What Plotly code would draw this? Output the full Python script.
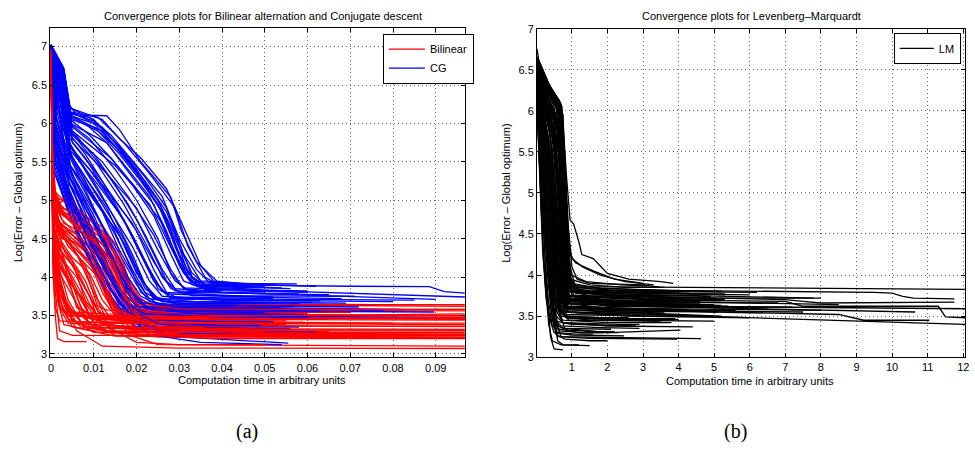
import plotly.graph_objects as go

# ---------------- data ----------------
# Each run: list of (time, log error) vertices
bilinear_runs = [
    [(0,7.0),(0.0004,5.4),(0.0012,4.9),(0.006,4.75),(0.012,4.5),(0.0165,4.1),(0.019,3.8),(0.023,3.64),(0.097,3.62)],
    [(0,6.95),(0.0005,5.2),(0.002,4.85),(0.008,4.6),(0.013,4.3),(0.017,3.9),(0.02,3.6),(0.03,3.57),(0.097,3.56)],
    [(0,7.0),(0.0003,5.8),(0.001,5.05),(0.004,4.95),(0.01,4.7),(0.015,4.35),(0.018,3.95),(0.021,3.55),(0.04,3.5),(0.097,3.49)],
    [(0,6.9),(0.0006,4.8),(0.003,4.5),(0.009,4.2),(0.014,3.9),(0.017,3.6),(0.025,3.47),(0.097,3.45)],
    [(0,6.98),(0.0005,5.0),(0.002,4.6),(0.006,4.3),(0.01,3.8),(0.013,3.45),(0.03,3.37),(0.097,3.355)],
    [(0,7.0),(0.0006,4.6),(0.0015,4.0),(0.004,3.6),(0.008,3.35),(0.02,3.32),(0.097,3.31)],
    [(0,6.95),(0.0004,5.1),(0.002,4.7),(0.007,4.45),(0.012,4.1),(0.015,3.6),(0.019,3.3),(0.03,3.27),(0.097,3.26)],
    [(0,6.9),(0.0008,4.3),(0.002,3.7),(0.005,3.35),(0.015,3.23),(0.097,3.22)],
    [(0,7.0),(0.0005,4.9),(0.003,4.55),(0.01,4.25),(0.014,3.7),(0.018,3.25),(0.025,3.12),(0.097,3.10)],
    [(0,6.92),(0.0007,4.4),(0.002,3.8),(0.006,3.3),(0.012,3.1),(0.03,3.075),(0.097,3.07)],
    [(0,6.9),(0.0004,4.2),(0.001,3.5),(0.0015,3.2),(0.003,3.16),(0.0083,3.16)],
    [(0,6.95),(0.0005,4.0),(0.001,3.6),(0.002,3.43),(0.012,3.40),(0.022,3.39)],
    [(0,7.0),(0.0006,4.7),(0.002,4.3),(0.006,3.85),(0.009,3.5),(0.02,3.45),(0.045,3.44)],
    [(0,6.97),(0.0005,5.1),(0.003,4.8),(0.009,4.5),(0.013,4.2),(0.016,3.75),(0.019,3.62),(0.0535,3.62)],
    [(0,6.93),(0.0003,5.3),(0.0015,4.85),(0.007,4.65),(0.013,4.4),(0.017,4.0),(0.02,3.7),(0.024,3.55),(0.06,3.53)],
    [(0,7.0),(0.0005,4.6),(0.002,4.2),(0.005,3.8),(0.007,3.5),(0.01,3.35),(0.03,3.3),(0.065,3.29)],
    [(0,6.88),(0.001,4.1),(0.002,3.6),(0.004,3.4),(0.016,3.36),(0.035,3.35)],
    [(0,6.95),(0.0006,4.9),(0.003,4.6),(0.008,4.35),(0.012,3.9),(0.015,3.5),(0.02,3.35),(0.05,3.33)],
    [(0,7.0),(0.0004,5.0),(0.002,4.7),(0.006,4.55),(0.011,4.3),(0.014,3.85),(0.017,3.5),(0.022,3.38),(0.042,3.37)],
    [(0,6.9),(0.0008,4.5),(0.003,4.1),(0.007,3.7),(0.01,3.4),(0.015,3.24),(0.04,3.2),(0.097,3.2)],
    [(0,6.97),(0.0005,4.7),(0.002,4.4),(0.004,4.0),(0.006,3.6),(0.01,3.5),(0.028,3.48),(0.032,3.47)],
    [(0,6.92),(0.0007,4.3),(0.0015,3.85),(0.003,3.55),(0.009,3.5),(0.02,3.49)],
    [(0,7.0),(0.0005,5.2),(0.0025,4.9),(0.008,4.75),(0.013,4.45),(0.016,4.2),(0.018,3.8),(0.021,3.5),(0.03,3.42),(0.08,3.4)],
    [(0,6.95),(0.0005,4.8),(0.004,4.4),(0.011,4.0),(0.014,3.6),(0.018,3.45),(0.026,3.43)],
    [(0,6.9),(0.0008,4.2),(0.002,3.9),(0.005,3.45),(0.01,3.28),(0.06,3.26)],
    [(0,6.98),(0.0004,5.0),(0.0015,4.5),(0.005,4.2),(0.008,3.7),(0.012,3.4),(0.02,3.33),(0.097,3.32)],
    [(0,7.0),(0.0004,4.6),(0.0015,4.2),(0.003,3.7),(0.005,3.5),(0.015,3.45),(0.097,3.44)],
    [(0,6.93),(0.0006,4.4),(0.002,4.0),(0.004,3.55),(0.012,3.52),(0.097,3.50)],
    [(0,6.96),(0.0005,4.8),(0.003,4.35),(0.007,3.95),(0.01,3.65),(0.013,3.57),(0.097,3.58)],
    [(0,6.9),(0.0004,4.9),(0.002,4.65),(0.009,4.4),(0.014,4.05),(0.018,3.7),(0.023,3.64),(0.097,3.64)],
    [(0,7.0),(0.0005,4.5),(0.001,3.8),(0.002,3.3),(0.005,3.24),(0.013,3.24),(0.097,3.24)],
    [(0,6.94),(0.0006,4.65),(0.003,4.25),(0.006,3.75),(0.009,3.35),(0.015,3.28),(0.097,3.28)],
    [(0,6.97),(0.0004,5.15),(0.002,4.95),(0.004,5.08),(0.006,4.9),(0.012,4.6),(0.016,4.25),(0.019,3.85),(0.022,3.6),(0.036,3.57)],
    [(0,6.92),(0.0005,4.85),(0.0025,4.5),(0.006,4.45),(0.01,4.2),(0.013,3.8),(0.016,3.45),(0.03,3.38),(0.055,3.38)],
    [(0,6.99),(0.0007,4.3),(0.0015,3.7),(0.003,3.38),(0.01,3.3),(0.025,3.29)],
    [(0,6.95),(0.0003,5.6),(0.001,5.1),(0.005,4.9),(0.012,4.65),(0.0155,4.4),(0.018,4.0),(0.021,3.7),(0.026,3.6),(0.045,3.59)],
    [(0,6.91),(0.0005,4.75),(0.004,4.5),(0.008,4.1),(0.011,3.6),(0.014,3.33),(0.02,3.15),(0.03,3.12),(0.05,3.12)],
    [(0,6.96),(0.0006,4.55),(0.002,4.1),(0.004,3.7),(0.007,3.42),(0.02,3.4),(0.038,3.39)],
    [(0,7.0),(0.0005,5.0),(0.003,4.7),(0.01,4.5),(0.015,4.15),(0.018,3.7),(0.02,3.5),(0.05,3.47),(0.097,3.47)],
    [(0,6.9),(0.0004,4.4),(0.001,3.9),(0.002,3.6),(0.004,3.5),(0.015,3.48),(0.028,3.47)],
    [(0,6.98),(0.0003,5.5),(0.0008,5.0),(0.003,4.85),(0.007,4.7),(0.011,4.45),(0.014,4.0),(0.017,3.65),(0.022,3.55),(0.07,3.54)],
    [(0,6.94),(0.0004,5.2),(0.0015,4.75),(0.005,4.55),(0.009,4.3),(0.012,3.95),(0.015,3.6),(0.02,3.48),(0.097,3.46)],
    [(0,7.0),(0.0005,4.95),(0.002,4.6),(0.004,4.45),(0.008,4.15),(0.011,3.7),(0.014,3.45),(0.025,3.36),(0.097,3.36)],
    [(0,6.9),(0.0004,4.6),(0.0015,4.3),(0.004,4.1),(0.007,3.8),(0.009,3.5),(0.012,3.38),(0.02,3.33),(0.04,3.32)],
    [(0,6.96),(0.0006,4.5),(0.002,4.15),(0.005,3.9),(0.007,3.6),(0.01,3.45),(0.03,3.42),(0.059,3.41)],
    [(0,6.99),(0.0005,5.05),(0.0025,4.85),(0.006,4.7),(0.01,4.55),(0.013,4.35),(0.016,3.95),(0.019,3.6),(0.025,3.5),(0.048,3.49)],
    [(0,6.92),(0.0003,4.9),(0.001,4.4),(0.003,4.2),(0.006,4.0),(0.009,3.65),(0.012,3.4),(0.02,3.3),(0.097,3.3)],
    [(0,6.97),(0.0004,4.7),(0.0015,4.45),(0.004,4.3),(0.008,3.95),(0.011,3.55),(0.014,3.3),(0.025,3.22),(0.097,3.21)],
    [(0,6.95),(0.0005,4.45),(0.0012,4.0),(0.003,3.75),(0.005,3.55),(0.008,3.47),(0.02,3.46),(0.034,3.45)],
    [(0,7.0),(0.0004,5.3),(0.001,5.0),(0.003,4.9),(0.008,4.7),(0.012,4.55),(0.015,4.3),(0.0175,3.9),(0.02,3.65),(0.026,3.58),(0.097,3.58)],
    [(0,6.9),(0.0006,4.35),(0.0015,3.95),(0.003,3.7),(0.006,3.5),(0.012,3.42),(0.024,3.41)],
    [(0,6.97),(0.0005,4.85),(0.002,4.5),(0.005,4.25),(0.009,4.05),(0.012,3.7),(0.015,3.5),(0.022,3.44),(0.055,3.43)],
    [(0,6.93),(0.0004,4.55),(0.001,4.15),(0.0025,3.9),(0.004,3.6),(0.006,3.4),(0.01,3.34),(0.03,3.33),(0.045,3.33)],
    [(0,7.0),(0.0005,5.0),(0.0025,4.75),(0.007,4.5),(0.01,4.3),(0.013,3.85),(0.016,3.55),(0.022,3.46),(0.065,3.45)],
    [(0,6.96),(0.0007,4.25),(0.002,3.8),(0.004,3.5),(0.007,3.35),(0.015,3.28),(0.03,3.27)],
    [(0,6.98),(0.0004,5.1),(0.0015,4.9),(0.005,4.7),(0.01,4.4),(0.014,4.1),(0.017,3.75),(0.02,3.55),(0.03,3.5),(0.085,3.5)],
    [(0,6.91),(0.0005,4.65),(0.0015,4.4),(0.005,4.15),(0.008,3.85),(0.011,3.55),(0.015,3.45),(0.04,3.43)],
    [(0,6.95),(0.0006,4.4),(0.0015,4.1),(0.004,3.85),(0.006,3.65),(0.009,3.4),(0.013,3.28),(0.022,3.25),(0.097,3.25)],
    [(0,7.0),(0.0005,4.8),(0.002,4.55),(0.006,4.35),(0.01,4.1),(0.013,3.75),(0.016,3.5),(0.02,3.4),(0.032,3.39)],
    [(0,6.93),(0.0004,4.3),(0.001,3.95),(0.002,3.65),(0.004,3.45),(0.01,3.37),(0.02,3.36)],
    [(0,6.97),(0.0005,5.0),(0.003,4.8),(0.008,4.6),(0.012,4.35),(0.015,4.05),(0.018,3.6),(0.021,3.45),(0.03,3.4),(0.097,3.4)],
    [(0,6.9),(0.0005,4.5),(0.0012,4.2),(0.004,3.95),(0.007,3.75),(0.01,3.5),(0.013,3.38),(0.02,3.34),(0.036,3.34)],
    [(0,6.99),(0.0005,4.9),(0.002,4.65),(0.005,4.45),(0.009,4.2),(0.012,3.8),(0.015,3.52),(0.02,3.48),(0.097,3.52)],
    [(0,6.94),(0.0006,4.6),(0.002,4.35),(0.006,4.1),(0.009,3.75),(0.011,3.45),(0.015,3.3),(0.025,3.29),(0.05,3.29)],
    [(0,6.96),(0.0004,5.05),(0.002,4.85),(0.006,4.65),(0.011,4.4),(0.0145,4.2),(0.017,3.85),(0.019,3.55),(0.024,3.4),(0.097,3.38)],
]

cg_runs = [
    [(0,7.03),(0.003,6.72),(0.004,6.26),(0.006,6.11),(0.013,6.1),(0.016,5.92),(0.021,5.5),(0.028,5.04),(0.0305,4.6),(0.034,4.2),(0.0393,3.92),(0.0575,3.91)],
    [(0,7.0),(0.003,6.65),(0.0045,6.15),(0.011,6.08),(0.017,5.75),(0.023,5.35),(0.029,4.9),(0.032,4.4),(0.036,4.0),(0.039,3.9),(0.07,3.88),(0.0885,3.875),(0.092,3.81),(0.097,3.79)],
    [(0,7.02),(0.0032,6.55),(0.0048,6.05),(0.01,5.95),(0.016,5.65),(0.022,5.25),(0.027,4.85),(0.031,4.3),(0.035,3.95),(0.05,3.9),(0.062,3.88)],
    [(0,7.0),(0.003,6.5),(0.005,5.95),(0.014,5.55),(0.02,5.15),(0.026,4.7),(0.03,4.2),(0.033,3.93),(0.036,3.85),(0.097,3.74)],
    [(0,6.98),(0.0035,6.4),(0.005,5.85),(0.012,5.5),(0.018,5.05),(0.024,4.55),(0.028,4.1),(0.031,3.85),(0.04,3.8),(0.09,3.71)],
    [(0,7.0),(0.003,6.45),(0.0045,5.9),(0.011,5.45),(0.017,4.95),(0.022,4.45),(0.026,4.0),(0.029,3.82),(0.05,3.78),(0.065,3.77)],
    [(0,7.01),(0.0032,6.3),(0.005,5.75),(0.01,5.4),(0.015,5.0),(0.02,4.6),(0.024,4.1),(0.027,3.8),(0.045,3.75),(0.052,3.74)],
    [(0,6.99),(0.003,6.35),(0.0045,5.7),(0.009,5.3),(0.014,4.85),(0.019,4.4),(0.023,3.95),(0.026,3.75),(0.04,3.7),(0.08,3.68)],
    [(0,7.0),(0.0015,6.2),(0.0045,5.6),(0.008,5.3),(0.013,4.9),(0.018,4.3),(0.022,3.85),(0.026,3.68),(0.058,3.66)],
    [(0,7.02),(0.0016,6.25),(0.005,5.55),(0.009,5.15),(0.014,4.7),(0.018,4.2),(0.021,3.8),(0.025,3.65),(0.047,3.63)],
    [(0,6.98),(0.0012,6.1),(0.004,5.5),(0.008,5.1),(0.012,4.65),(0.016,4.15),(0.02,3.75),(0.024,3.62),(0.082,3.58)],
    [(0,7.0),(0.001,6.0),(0.0045,5.4),(0.007,5.1),(0.011,4.6),(0.015,4.1),(0.019,3.7),(0.023,3.6),(0.055,3.59)],
    [(0,7.01),(0.0009,5.95),(0.0045,5.3),(0.008,4.9),(0.012,4.45),(0.016,3.95),(0.02,3.62),(0.03,3.56),(0.0896,3.545)],
    [(0,6.99),(0.0008,5.9),(0.004,5.25),(0.007,4.9),(0.011,4.4),(0.015,3.9),(0.018,3.6),(0.025,3.53),(0.06,3.52)],
    [(0,7.0),(0.001,5.8),(0.0045,5.2),(0.008,4.75),(0.012,4.3),(0.016,3.8),(0.02,3.55),(0.03,3.5),(0.097,3.47)],
    [(0,7.02),(0.0007,5.85),(0.004,5.15),(0.006,4.9),(0.01,4.5),(0.014,4.0),(0.018,3.6),(0.024,3.48),(0.064,3.46)],
    [(0,6.98),(0.0009,5.7),(0.0045,5.05),(0.008,4.6),(0.013,4.1),(0.017,3.7),(0.021,3.45),(0.03,3.4),(0.05,3.39)],
    [(0,7.0),(0.0008,5.6),(0.004,5.0),(0.007,4.6),(0.011,4.15),(0.015,3.75),(0.019,3.45),(0.03,3.35),(0.056,3.33)],
    [(0,7.01),(0.0008,5.5),(0.005,4.9),(0.009,4.45),(0.014,3.95),(0.018,3.55),(0.022,3.3),(0.03,3.22),(0.0555,3.14)],
    [(0,6.99),(0.0007,5.4),(0.004,4.85),(0.008,4.4),(0.013,3.9),(0.018,3.5),(0.023,3.25),(0.035,3.15),(0.054,3.12)],
    [(0,7.0),(0.003,6.6),(0.0045,6.1),(0.012,5.9),(0.018,5.5),(0.025,5.0),(0.029,4.5),(0.033,4.05),(0.036,3.9),(0.046,3.87)],
    [(0,7.0),(0.003,6.55),(0.0045,6.0),(0.013,5.75),(0.019,5.3),(0.024,4.95),(0.028,4.4),(0.032,3.98),(0.035,3.88),(0.056,3.85)],
    [(0,7.02),(0.0032,6.4),(0.005,5.8),(0.013,5.35),(0.02,4.9),(0.025,4.35),(0.029,3.95),(0.032,3.83),(0.06,3.8)],
    [(0,6.97),(0.003,6.3),(0.0045,5.65),(0.011,5.2),(0.017,4.75),(0.021,4.3),(0.025,3.9),(0.028,3.72),(0.04,3.7),(0.063,3.69)],
    [(0,7.0),(0.0014,6.15),(0.0045,5.45),(0.01,5.0),(0.016,4.55),(0.02,4.05),(0.024,3.75),(0.03,3.66),(0.076,3.64)],
    [(0,7.01),(0.0012,6.05),(0.0048,5.35),(0.009,4.95),(0.015,4.4),(0.02,3.9),(0.023,3.68),(0.03,3.62),(0.043,3.61)],
    [(0,6.99),(0.0008,5.75),(0.0042,5.1),(0.007,4.75),(0.012,4.35),(0.017,3.85),(0.021,3.58),(0.04,3.55),(0.07,3.54)],
    [(0,7.0),(0.001,5.65),(0.0045,5.0),(0.008,4.55),(0.012,4.05),(0.016,3.65),(0.02,3.5),(0.048,3.47)],
    [(0,7.02),(0.0009,5.5),(0.004,4.9),(0.006,4.55),(0.01,4.1),(0.014,3.7),(0.018,3.45),(0.026,3.38),(0.045,3.36)],
    [(0,6.98),(0.0008,5.35),(0.0045,4.8),(0.008,4.35),(0.012,3.9),(0.016,3.55),(0.02,3.35),(0.03,3.27),(0.047,3.25)],
    [(0,7.0),(0.0032,6.65),(0.0046,6.12),(0.009,6.08),(0.014,5.85),(0.02,5.45),(0.026,5.05),(0.03,4.5),(0.034,4.1),(0.037,3.93),(0.052,3.9)],
    [(0,7.0),(0.003,6.45),(0.005,5.9),(0.015,5.45),(0.023,4.95),(0.027,4.5),(0.031,4.05),(0.034,3.9),(0.054,3.86)],
    [(0,7.01),(0.0028,6.2),(0.0045,5.7),(0.012,5.2),(0.019,4.7),(0.024,4.2),(0.028,3.85),(0.033,3.76),(0.071,3.75)],
    [(0,6.99),(0.003,6.0),(0.0045,5.45),(0.011,4.95),(0.017,4.45),(0.021,4.0),(0.024,3.72),(0.034,3.68),(0.069,3.66)],
    [(0,7.0),(0.0026,5.95),(0.004,5.25),(0.009,4.8),(0.014,4.3),(0.018,3.85),(0.022,3.6),(0.032,3.56),(0.066,3.55)],
    [(0,7.02),(0.0028,5.8),(0.0042,5.15),(0.008,4.65),(0.013,4.15),(0.017,3.75),(0.021,3.52),(0.035,3.48),(0.074,3.47)],
    [(0,6.98),(0.0009,5.55),(0.004,4.95),(0.007,4.5),(0.011,4.0),(0.015,3.65),(0.02,3.42),(0.03,3.36),(0.058,3.35)],
    [(0,7.0),(0.0008,5.45),(0.004,4.85),(0.007,4.45),(0.011,4.0),(0.016,3.6),(0.021,3.38),(0.03,3.3),(0.062,3.29)],
    [(0,7.01),(0.003,6.7),(0.0045,6.2),(0.012,6.05),(0.016,5.8),(0.021,5.55),(0.027,5.15),(0.031,4.65),(0.035,4.15),(0.038,3.95),(0.044,3.92)],
    [(0,7.0),(0.003,6.6),(0.0045,6.1),(0.01,6.0),(0.015,5.7),(0.02,5.35),(0.025,4.95),(0.028,4.55),(0.031,4.15),(0.034,3.93),(0.047,3.89)],
    [(0,7.0),(0.0028,6.5),(0.0042,6.12),(0.008,6.0),(0.013,5.75),(0.018,5.4),(0.023,5.05),(0.027,4.6),(0.03,4.15),(0.033,3.9),(0.045,3.86)],
    [(0,7.01),(0.003,6.55),(0.0045,6.05),(0.009,5.85),(0.014,5.55),(0.019,5.2),(0.024,4.8),(0.028,4.3),(0.031,3.95),(0.036,3.84),(0.06,3.82)],
    [(0,6.99),(0.0028,6.4),(0.0042,5.95),(0.008,5.7),(0.013,5.35),(0.018,4.95),(0.022,4.55),(0.026,4.1),(0.029,3.85),(0.04,3.8),(0.05,3.79)],
    [(0,7.0),(0.003,6.35),(0.0045,5.85),(0.008,5.6),(0.012,5.25),(0.016,4.85),(0.02,4.4),(0.024,3.95),(0.027,3.78),(0.045,3.74),(0.068,3.72)],
    [(0,7.02),(0.0028,6.25),(0.0043,5.75),(0.007,5.5),(0.011,5.15),(0.015,4.75),(0.019,4.3),(0.022,3.9),(0.025,3.72),(0.05,3.7)],
    [(0,6.98),(0.0027,6.15),(0.0042,5.65),(0.007,5.35),(0.011,4.95),(0.015,4.55),(0.019,4.1),(0.022,3.8),(0.026,3.68),(0.061,3.67)],
    [(0,7.0),(0.0013,6.05),(0.0045,5.55),(0.007,5.25),(0.01,4.9),(0.014,4.45),(0.018,4.0),(0.021,3.75),(0.025,3.64),(0.057,3.62)],
    [(0,7.01),(0.0011,5.95),(0.0043,5.45),(0.006,5.2),(0.01,4.8),(0.014,4.3),(0.017,3.9),(0.02,3.68),(0.03,3.6),(0.078,3.57)],
    [(0,6.99),(0.0009,5.85),(0.004,5.35),(0.006,5.1),(0.009,4.7),(0.013,4.2),(0.016,3.85),(0.02,3.62),(0.03,3.55),(0.05,3.54)],
    [(0,7.0),(0.0008,5.75),(0.004,5.25),(0.006,5.0),(0.009,4.6),(0.013,4.1),(0.016,3.75),(0.02,3.55),(0.03,3.5),(0.068,3.5)],
    [(0,7.02),(0.003,6.68),(0.0044,6.2),(0.01,6.05),(0.015,5.75),(0.02,5.4),(0.025,5.0),(0.029,4.55),(0.032,4.05),(0.035,3.9),(0.038,3.87)],
    [(0,7.0),(0.003,6.6),(0.0045,6.15),(0.012,5.95),(0.017,5.6),(0.022,5.2),(0.027,4.75),(0.03,4.3),(0.033,3.98),(0.037,3.88),(0.041,3.88)],
    [(0,6.99),(0.0029,6.45),(0.0044,6.0),(0.009,5.8),(0.015,5.4),(0.02,5.0),(0.025,4.5),(0.028,4.05),(0.031,3.86),(0.055,3.82)],
    [(0,7.01),(0.0028,6.3),(0.0044,5.8),(0.008,5.55),(0.013,5.1),(0.018,4.65),(0.022,4.2),(0.025,3.85),(0.028,3.74),(0.052,3.72)],
    [(0,7.0),(0.0027,6.2),(0.0043,5.6),(0.007,5.3),(0.012,4.85),(0.016,4.35),(0.02,3.95),(0.023,3.72),(0.03,3.66),(0.044,3.65)],
    [(0,6.98),(0.0011,6.0),(0.0042,5.4),(0.006,5.15),(0.01,4.75),(0.014,4.25),(0.018,3.85),(0.022,3.62),(0.03,3.57),(0.063,3.56)],
    [(0,7.0),(0.0007,5.7),(0.004,5.1),(0.006,4.85),(0.01,4.4),(0.014,3.95),(0.018,3.65),(0.022,3.52),(0.04,3.48),(0.06,3.48)],
    [(0,7.01),(0.0008,5.6),(0.004,5.0),(0.006,4.7),(0.01,4.25),(0.014,3.85),(0.018,3.55),(0.022,3.44),(0.04,3.42),(0.052,3.42)],
    [(0,6.99),(0.003,6.5),(0.0045,6.08),(0.011,5.9),(0.016,5.6),(0.021,5.25),(0.026,4.85),(0.029,4.4),(0.032,4.0),(0.035,3.87),(0.049,3.84)],
    [(0,7.0),(0.0028,6.35),(0.0043,5.9),(0.01,5.6),(0.015,5.2),(0.02,4.75),(0.024,4.3),(0.027,3.95),(0.03,3.8),(0.058,3.78)],
    [(0,7.02),(0.003,6.1),(0.0045,5.6),(0.008,5.3),(0.012,4.95),(0.017,4.5),(0.021,4.0),(0.024,3.72),(0.03,3.64),(0.072,3.61)],
    [(0,6.98),(0.001,5.9),(0.0042,5.3),(0.007,5.0),(0.011,4.6),(0.015,4.15),(0.019,3.8),(0.023,3.58),(0.035,3.52),(0.059,3.51)],
    [(0,7.0),(0.0009,5.65),(0.004,5.05),(0.007,4.7),(0.011,4.25),(0.015,3.85),(0.019,3.55),(0.025,3.4),(0.04,3.37),(0.049,3.37)],
    [(0,7.01),(0.0028,6.25),(0.0044,5.7),(0.009,5.4),(0.014,5.0),(0.019,4.55),(0.023,4.1),(0.026,3.82),(0.03,3.72),(0.085,3.7)],
    [(0,6.99),(0.003,6.62),(0.0045,6.14),(0.01,6.03),(0.016,5.7),(0.022,5.3),(0.027,4.9),(0.03,4.45),(0.033,4.0),(0.036,3.9),(0.05,3.88)],
]

lm_runs = [
    [(0.02,6.75),(0.07,6.62),(0.35,6.33),(0.63,6.13),(0.72,6.05),(0.85,5.2),(0.95,4.67),(1.05,4.62),(1.2,4.4),(1.28,4.25),(1.6,4.2),(2.0,4.02),(2.6,3.95),(3.5,3.92),(3.85,3.9)],
    [(0.02,6.65),(0.1,6.58),(0.4,6.25),(0.7,6.08),(0.78,5.6),(0.9,4.6),(1.0,4.1),(1.15,3.95),(1.5,3.9),(3.0,3.88),(3.5,3.85)],
    [(0.02,6.6),(0.2,6.45),(0.5,6.2),(0.75,5.95),(0.85,4.9),(0.95,4.1),(1.1,3.86),(12.05,3.826)],
    [(0.02,6.62),(0.15,6.5),(0.45,6.15),(0.7,5.9),(0.8,5.0),(0.9,4.2),(1.0,3.9),(2,3.82),(9.5,3.79),(10.0,3.78),(10.3,3.74),(10.6,3.72),(11.75,3.71)],
    [(0.02,6.55),(0.3,6.3),(0.6,6.0),(0.72,5.4),(0.85,4.3),(0.95,3.85),(2,3.75),(7,3.7),(7.5,3.68),(8.0,3.66),(11.75,3.67)],
    [(0.02,6.5),(0.2,6.35),(0.5,6.05),(0.65,5.5),(0.8,4.2),(0.9,3.8),(3,3.7),(7.0,3.68),(7.5,3.62),(9.0,3.62),(11.3,3.62),(11.5,3.49),(12.05,3.48)],
    [(0.02,6.45),(0.25,6.2),(0.5,5.85),(0.65,5.0),(0.78,4.0),(0.9,3.7),(4,3.62),(12.05,3.59)],
    [(0.02,6.48),(0.3,6.1),(0.55,5.6),(0.7,4.5),(0.82,3.8),(1.0,3.62),(5,3.55),(8.5,3.52),(9.2,3.45),(11.05,3.45)],
    [(0.02,6.4),(0.2,6.0),(0.45,5.4),(0.6,4.6),(0.75,3.8),(0.9,3.55),(12.05,3.40)],
    [(0.02,6.6),(0.35,6.3),(0.6,6.05),(0.72,5.8),(0.82,4.8),(0.92,4.0),(1.0,3.8),(3,3.72),(8.0,3.72)],
    [(0.02,6.52),(0.3,6.15),(0.6,5.8),(0.7,5.0),(0.8,4.1),(0.9,3.72),(5,3.6),(10.65,3.55)],
    [(0.02,6.35),(0.15,6.0),(0.35,5.3),(0.5,4.4),(0.65,3.75),(0.85,3.6),(6,3.58),(8.0,3.57)],
    [(0.02,6.3),(0.1,5.8),(0.25,5.0),(0.4,4.0),(0.5,3.5),(0.6,3.2),(0.75,3.15),(1.5,3.14)],
    [(0.02,6.2),(0.08,5.6),(0.2,4.6),(0.3,3.8),(0.4,3.25),(0.5,3.1),(0.75,3.09)],
    [(0.02,6.25),(0.12,5.5),(0.3,4.3),(0.45,3.6),(0.55,3.28),(0.8,3.22),(1.5,3.2),(2.0,3.2)],
    [(0.02,6.1),(0.1,5.2),(0.2,4.2),(0.35,3.5),(0.5,3.3),(1.0,3.27),(2.47,3.26)],
    [(0.02,6.4),(0.2,5.9),(0.4,5.1),(0.55,4.3),(0.7,3.7),(0.9,3.45),(2,3.45),(5.0,3.44)],
    [(0.02,6.5),(0.3,6.0),(0.5,5.6),(0.65,4.9),(0.75,4.0),(0.88,3.7),(2,3.62),(5.3,3.6)],
    [(0.02,6.58),(0.25,6.35),(0.6,6.1),(0.75,5.75),(0.85,4.6),(0.95,3.95),(1.1,3.78),(5,3.75),(7.8,3.72)],
    [(0.02,6.3),(0.15,5.7),(0.3,5.0),(0.45,4.2),(0.6,3.6),(0.8,3.35),(2,3.3),(4.05,3.33)],
    [(0.02,6.15),(0.1,5.4),(0.25,4.5),(0.35,3.9),(0.45,3.45),(0.6,3.25),(1.5,3.23),(3.96,3.22)],
    [(0.02,6.2),(0.12,5.6),(0.3,4.6),(0.42,3.8),(0.55,3.4),(0.7,3.25),(2,3.24),(4.63,3.225)],
    [(0.02,6.45),(0.25,6.1),(0.5,5.7),(0.62,5.2),(0.72,4.2),(0.85,3.75),(2,3.68),(6,3.66),(8.5,3.64)],
    [(0.02,6.55),(0.4,6.2),(0.62,6.05),(0.7,5.6),(0.8,4.5),(0.9,3.9),(1.05,3.8),(4,3.77),(6,3.76)],
    [(0.02,6.38),(0.2,5.95),(0.42,5.3),(0.58,4.4),(0.72,3.75),(0.9,3.58),(4,3.52),(5.2,3.5)],
    [(0.02,6.48),(0.35,6.05),(0.55,5.5),(0.68,4.6),(0.8,3.85),(0.95,3.7),(3,3.65),(4.5,3.64)],
    [(0.02,6.25),(0.1,5.8),(0.28,5.0),(0.4,4.3),(0.52,3.7),(0.7,3.5),(1.5,3.45),(3.5,3.44)],
    [(0.02,6.05),(0.08,5.3),(0.18,4.3),(0.28,3.7),(0.4,3.45),(1,3.4),(2.8,3.38)],
    [(0.02,6.6),(0.3,6.35),(0.65,6.12),(0.74,5.9),(0.84,4.8),(0.96,4.25),(1.1,4.15),(1.6,4.05),(2.2,3.95),(3.0,3.9)],
    [(0.02,6.62),(0.4,6.28),(0.68,6.1),(0.76,5.5),(0.88,4.5),(1.0,4.2),(1.3,4.1),(1.8,4.0),(2.5,3.92),(3.3,3.88)],
    [(0.02,6.5),(0.3,6.2),(0.6,5.9),(0.72,5.2),(0.83,4.3),(0.95,3.95),(1.5,3.88),(2.5,3.85),(3.6,3.85)],
    [(0.02,6.42),(0.25,6.05),(0.5,5.6),(0.62,4.9),(0.75,3.95),(0.9,3.75),(3,3.7),(5.2,3.69)],
    [(0.02,6.35),(0.2,5.85),(0.4,5.2),(0.55,4.3),(0.68,3.65),(0.85,3.55),(3,3.5),(4.8,3.5)],
    [(0.02,6.55),(0.35,6.2),(0.62,6.0),(0.72,5.5),(0.82,4.4),(0.92,3.85),(1.1,3.72),(2.5,3.67),(3.5,3.66)],
    [(0.02,6.28),(0.15,5.6),(0.32,4.8),(0.45,4.0),(0.58,3.55),(0.75,3.42),(2,3.38),(4.4,3.37)],
    [(0.02,6.18),(0.1,5.5),(0.2,4.8),(0.32,4.0),(0.42,3.55),(0.55,3.35),(1.2,3.3),(1.9,3.3)],
    [(0.02,6.45),(0.3,6.0),(0.52,5.5),(0.66,4.6),(0.78,3.85),(0.92,3.65),(3,3.62),(6.5,3.6)],
    [(0.02,6.58),(0.3,6.28),(0.6,6.02),(0.7,5.7),(0.8,4.6),(0.9,4.0),(1.05,3.85),(2.5,3.8),(4,3.78),(4.5,3.77)],
    [(0.02,6.32),(0.2,5.8),(0.38,5.0),(0.52,4.1),(0.65,3.6),(0.85,3.48),(3,3.45),(3.4,3.44)],
    [(0.02,6.4),(0.22,5.95),(0.45,5.3),(0.6,4.4),(0.72,3.75),(0.9,3.6),(3.2,3.57),(7.5,3.55)],
    [(0.02,6.5),(0.3,6.1),(0.55,5.7),(0.68,4.8),(0.8,3.9),(0.95,3.75),(2,3.72),(5.3,3.7)],
    [(0.02,6.22),(0.1,5.7),(0.25,4.8),(0.38,4.0),(0.5,3.5),(0.65,3.32),(1.3,3.3),(2.3,3.3)],
    [(0.02,6.35),(0.18,5.9),(0.35,5.2),(0.5,4.5),(0.62,3.9),(0.8,3.7),(2.5,3.66),(4.8,3.64)],
    [(0.02,6.52),(0.35,6.15),(0.58,5.85),(0.7,5.2),(0.8,4.2),(0.92,3.8),(1.5,3.75),(3,3.73),(4.2,3.72)],
    [(0.02,6.1),(0.07,5.5),(0.15,4.7),(0.25,3.9),(0.35,3.4),(0.45,3.2),(0.7,3.15),(1.2,3.15)],
    [(0.02,6.62),(0.2,6.42),(0.45,6.22),(0.65,6.1),(0.72,5.9),(0.8,5.0),(0.88,4.2),(0.98,3.85),(1.5,3.8),(4,3.78),(5.3,3.76)],
    [(0.02,6.58),(0.25,6.3),(0.5,6.1),(0.66,5.95),(0.74,5.3),(0.84,4.4),(0.94,3.9),(1.2,3.78),(3,3.74),(5,3.72)],
    [(0.02,6.55),(0.2,6.3),(0.45,6.0),(0.6,5.75),(0.7,5.0),(0.8,4.1),(0.9,3.75),(2,3.7),(4.6,3.68)],
    [(0.02,6.5),(0.15,6.3),(0.4,5.95),(0.55,5.6),(0.66,4.8),(0.76,3.95),(0.9,3.7),(3,3.65),(5.2,3.63)],
    [(0.02,6.45),(0.15,6.15),(0.35,5.8),(0.5,5.4),(0.62,4.6),(0.74,3.85),(0.9,3.65),(2,3.6),(4.3,3.58)],
    [(0.02,6.42),(0.12,6.05),(0.3,5.6),(0.45,5.1),(0.58,4.3),(0.7,3.75),(0.85,3.6),(2.5,3.56),(5.1,3.55)],
    [(0.02,6.38),(0.1,5.95),(0.25,5.4),(0.4,4.8),(0.52,4.1),(0.65,3.65),(0.8,3.55),(3,3.52),(4.7,3.5)],
    [(0.02,6.6),(0.25,6.4),(0.55,6.15),(0.68,6.0),(0.76,5.4),(0.86,4.5),(0.96,3.95),(1.2,3.82),(3.5,3.8),(6.2,3.79)],
    [(0.02,6.52),(0.22,6.2),(0.48,5.9),(0.62,5.55),(0.72,4.6),(0.82,3.9),(0.95,3.72),(3,3.68),(6.8,3.66)],
    [(0.02,6.48),(0.2,6.1),(0.42,5.75),(0.56,5.3),(0.66,4.5),(0.76,3.85),(0.92,3.66),(3.5,3.62),(7.2,3.61)],
    [(0.02,6.3),(0.1,5.85),(0.22,5.3),(0.35,4.6),(0.46,3.95),(0.58,3.55),(0.75,3.45),(2,3.42),(3.8,3.42)],
    [(0.02,6.2),(0.08,5.75),(0.18,5.1),(0.3,4.3),(0.4,3.75),(0.52,3.45),(0.7,3.38),(1.8,3.36),(2.9,3.35)],
    [(0.02,6.4),(0.15,6.0),(0.32,5.55),(0.46,4.95),(0.58,4.2),(0.7,3.7),(0.88,3.55),(2.6,3.5),(6.0,3.48)],
    [(0.02,6.56),(0.3,6.25),(0.58,6.05),(0.7,5.75),(0.78,4.9),(0.88,4.05),(1.0,3.8),(2,3.76),(4.9,3.74)],
    [(0.02,6.44),(0.18,6.1),(0.38,5.7),(0.52,5.2),(0.63,4.4),(0.74,3.8),(0.9,3.62),(2.4,3.58),(5.6,3.57)],
    [(0.02,6.34),(0.12,5.9),(0.28,5.3),(0.42,4.6),(0.55,3.9),(0.68,3.55),(0.85,3.48),(2.2,3.46),(4.0,3.46)],
    [(0.02,6.26),(0.1,5.75),(0.25,5.0),(0.38,4.2),(0.5,3.6),(0.62,3.38),(0.9,3.33),(1.7,3.31),(2.2,3.31)],
    [(0.02,6.6),(0.35,6.3),(0.62,6.1),(0.72,5.85),(0.81,4.8),(0.9,4.1),(1.0,3.88),(1.8,3.84),(3.2,3.82),(4.3,3.8)],
    [(0.02,6.5),(0.25,6.15),(0.52,5.85),(0.64,5.4),(0.74,4.4),(0.84,3.8),(1.0,3.68),(2.8,3.64),(5.4,3.62)],
    [(0.02,6.36),(0.14,5.95),(0.3,5.45),(0.44,4.8),(0.56,4.0),(0.68,3.6),(0.85,3.5),(2.2,3.47),(3.9,3.47)],
    [(0.02,6.15),(0.07,5.7),(0.15,5.0),(0.25,4.2),(0.34,3.7),(0.44,3.4),(0.6,3.3),(1.1,3.28),(1.6,3.28)],
    [(0.02,6.62),(0.3,6.36),(0.64,6.13),(0.74,5.95),(0.82,5.0),(0.9,4.3),(0.98,4.0),(1.4,3.92),(2.4,3.88),(3.1,3.87)],
    [(0.02,6.46),(0.2,6.1),(0.44,5.75),(0.58,5.25),(0.68,4.35),(0.78,3.8),(0.95,3.66),(3.3,3.62),(6.0,3.6)],
    [(0.02,6.54),(0.28,6.22),(0.55,5.95),(0.68,5.55),(0.77,4.6),(0.86,3.95),(1.0,3.76),(2.5,3.72),(4.4,3.7)],
    [(0.02,6.3),(0.12,5.85),(0.26,5.25),(0.4,4.5),(0.52,3.85),(0.65,3.55),(0.8,3.5),(1.8,3.48),(2.6,3.48)],
    [(0.02,6.58),(0.32,6.3),(0.6,6.08),(0.72,5.7),(0.8,4.7),(0.9,3.95),(1.05,3.8),(2.5,3.77),(5.3,3.77)],
    [(0.02,6.42),(0.16,6.05),(0.36,5.65),(0.5,5.05),(0.61,4.25),(0.72,3.72),(0.88,3.58),(2,3.55),(3.6,3.54)],
    [(0.02,6.48),(0.22,6.15),(0.47,5.8),(0.6,5.35),(0.7,4.5),(0.8,3.85),(0.95,3.7),(3,3.66),(4.6,3.66)],
    [(0.02,6.24),(0.09,5.75),(0.2,5.05),(0.32,4.25),(0.43,3.65),(0.55,3.4),(0.75,3.35),(1.5,3.34),(2.1,3.34)],
    [(0.02,6.66),(0.1,6.58),(0.4,6.28),(0.67,6.1),(0.75,5.75),(0.84,4.6),(0.93,4.0),(1.1,3.85),(3,3.82),(5.2,3.8)],
    [(0.02,6.45),(0.18,6.05),(0.32,5.5),(0.42,4.9),(0.52,4.2),(0.62,3.75),(0.8,3.6),(2.2,3.57),(4.9,3.56)],
    [(0.02,6.38),(0.2,5.9),(0.35,5.35),(0.46,4.7),(0.56,4.0),(0.66,3.68),(0.85,3.6),(2.8,3.58),(3.7,3.58)],
    [(0.02,6.5),(0.25,6.1),(0.42,5.6),(0.52,5.0),(0.6,4.3),(0.7,3.8),(0.88,3.68),(2.6,3.65),(5.0,3.64)],
    [(0.02,6.55),(0.3,6.2),(0.5,5.85),(0.58,5.4),(0.66,4.6),(0.76,3.9),(0.92,3.74),(3.4,3.71),(4.1,3.7)],
    [(0.02,6.28),(0.14,5.75),(0.26,5.15),(0.36,4.5),(0.46,3.85),(0.56,3.5),(0.75,3.42),(2.3,3.4),(2.9,3.4)],
    [(0.02,6.42),(0.22,6.0),(0.38,5.45),(0.5,4.75),(0.6,4.05),(0.7,3.7),(0.9,3.6),(1.8,3.58),(3.3,3.57)],
    [(0.02,6.6),(0.3,6.3),(0.55,6.05),(0.64,5.7),(0.72,4.9),(0.82,4.1),(0.94,3.82),(2.1,3.79),(3.9,3.78)],
    [(0.02,6.34),(0.16,5.85),(0.3,5.25),(0.42,4.5),(0.52,3.9),(0.62,3.6),(0.8,3.52),(3.2,3.5),(4.5,3.5)],
]

left_xticks = [0, 0.01, 0.02, 0.03, 0.04, 0.05, 0.06, 0.07, 0.08, 0.09]
left_xlabels = ["0", "0.01", "0.02", "0.03", "0.04", "0.05", "0.06", "0.07", "0.08", "0.09"]
right_xticks = [1, 2, 3, 4, 5, 6, 7, 8, 9, 10, 11, 12]
yticks = [3, 3.5, 4, 4.5, 5, 5.5, 6, 6.5, 7]
ylabels = ["3", "3.5", "4", "4.5", "5", "5.5", "6", "6.5", "7"]

# ---------------- figure ----------------
W, H = 975, 455
FONT = "Liberation Sans, Arial, Helvetica, sans-serif"
LW = 1.3
fig = go.Figure()


def add_run(pts, color, name, legend, xa, ya, show):
    fig.add_trace(go.Scatter(
        x=[p[0] for p in pts], y=[p[1] for p in pts], mode="lines",
        line=dict(color=color, width=LW), name=name, legendgroup=name,
        showlegend=show, legend=legend, xaxis=xa, yaxis=ya, hoverinfo="skip"))


n = max(len(bilinear_runs), len(cg_runs))
for i in range(n):
    if i < len(bilinear_runs):
        add_run(bilinear_runs[i], "#ff0000", "Bilinear", "legend", "x", "y", i == 0)
    if i < len(cg_runs):
        add_run(cg_runs[i], "#0000ff", "CG", "legend", "x", "y", i == 0)
for i, pts in enumerate(lm_runs):
    add_run(pts, "#000000", "LM", "legend2", "x2", "y2", i == 0)


def px(x):
    return x / W


def py(y):
    return 1 - y / H


axis_common = dict(
    showline=True, linecolor="black", linewidth=1, mirror="ticks",
    ticks="inside", ticklen=4, tickcolor="black",
    showgrid=True, gridcolor="#666666", gridwidth=1, griddash="1px,3px",
    zeroline=False, tickfont=dict(family=FONT, size=11, color="black"),
)

fig.update_layout(
    width=W, height=H, margin=dict(l=0, r=0, t=0, b=0),
    paper_bgcolor="white", plot_bgcolor="white", hovermode=False,
    xaxis=dict(domain=[px(48.5), px(465.7)], range=[-0.0002, 0.0968],
               tickvals=left_xticks, ticktext=left_xlabels, anchor="y", **axis_common),
    yaxis=dict(domain=[py(361), py(23)], range=[2.953, 7.237],
               tickvals=yticks, ticktext=ylabels, anchor="x", **axis_common),
    xaxis2=dict(domain=[px(538.3), px(969)], range=[0.02, 12.05],
                tickvals=right_xticks, anchor="y2", **axis_common),
    yaxis2=dict(domain=[py(360.7), py(23.3)], range=[3, 7],
                tickvals=yticks, ticktext=ylabels, anchor="x2", **axis_common),
    legend=dict(x=px(383.3), y=py(28.3), xanchor="left", yanchor="top",
                bgcolor="white", bordercolor="black", borderwidth=1,
                font=dict(family=FONT, size=11, color="black"),
                itemwidth=36, tracegroupgap=0),
    legend2=dict(x=px(897.3), y=py(27.7), xanchor="left", yanchor="top",
                 bgcolor="white", bordercolor="black", borderwidth=1,
                 font=dict(family=FONT, size=11, color="black"),
                 itemwidth=34),
)

ann = []
txt = dict(family=FONT, size=11, color="black")
ann.append(dict(text="Convergence plots for Bilinear alternation and Conjugate descent",
                x=px(262.5), y=py(10), font=txt))
ann.append(dict(text="Convergence plots for Levenberg–Marquardt",
                x=px(754), y=py(10), font=txt))
ann.append(dict(text="Computation time in arbitrary units", x=px(262), y=py(384), font=txt))
ann.append(dict(text="Computation time in arbitrary units", x=px(753), y=py(385), font=txt))
ann.append(dict(text="Log(Error – Global optimum)", x=px(16.5), y=py(192), textangle=-90, font=txt))
ann.append(dict(text="Log(Error – Global optimum)", x=px(507), y=py(192), textangle=-90, font=txt))
serif = dict(family="Liberation Serif, Times New Roman, serif", size=20, color="black")
ann.append(dict(text="(a)", x=px(247), y=py(437), font=serif))
ann.append(dict(text="(b)", x=px(738), y=py(437), font=serif))
for a in ann:
    a.update(xref="paper", yref="paper", xanchor="center", yanchor="middle", showarrow=False)
fig.update_layout(annotations=ann)

fig.write_html("out.html")
